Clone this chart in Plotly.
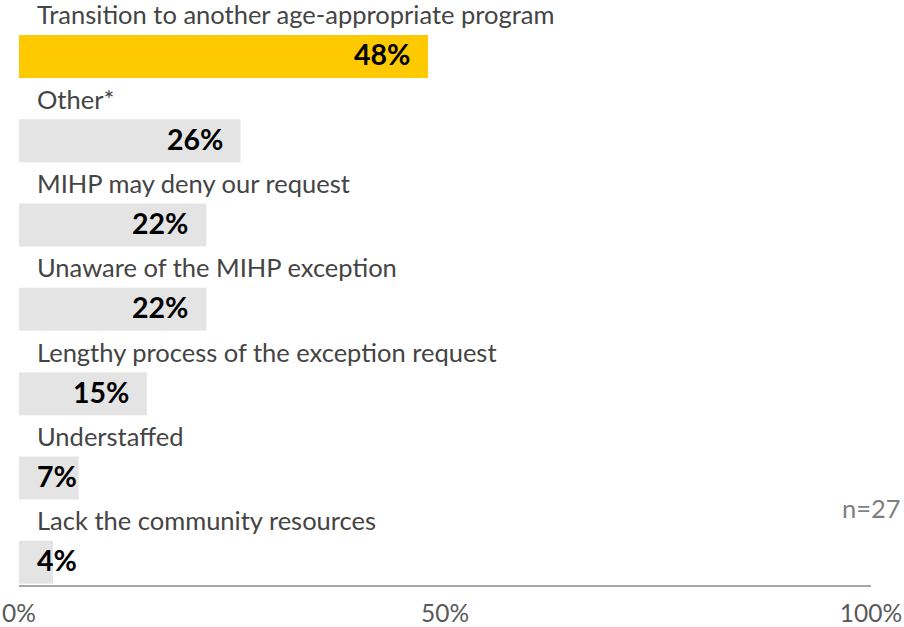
import plotly.graph_objects as go

# Reasons reported, with share of respondents (%)
categories = [
    "Transition to another age-appropriate program",
    "Other*",
    "MIHP may deny our request",
    "Unaware of the MIHP exception",
    "Lengthy process of the exception request",
    "Understaffed",
    "Lack the community resources",
]
values = [48, 26, 22, 22, 15, 7, 4]
bar_colors = ["#FFC900", "#E4E4E4", "#E4E4E4", "#E4E4E4", "#E4E4E4", "#E4E4E4", "#E4E4E4"]
tick_values = [0, 50, 100]
tick_labels = ["0%", "50%", "100%"]
sample_note = "n=27"

FONT = "Lato, 'Open Sans', sans-serif"
positions = list(range(len(categories)))

fig = go.Figure(
    go.Bar(
        x=values,
        y=positions,
        orientation="h",
        width=0.51,
        marker=dict(color=bar_colors, line=dict(width=0)),
        hoverinfo="skip",
    )
)

annotations = []
for i, (cat, val) in enumerate(zip(categories, values)):
    # category label sits in the gap above its bar
    annotations.append(dict(
        x=0, y=i - 0.5, xref="x", yref="y",
        text=cat, showarrow=False, xanchor="left", yanchor="middle",
        xshift=17, borderpad=0,
        font=dict(family=FONT, size=25.5, color="#444444"),
    ))
    # value label: right-aligned inside the bar, or pinned left for short bars
    if val >= 10:
        annotations.append(dict(
            x=val, y=i, xref="x", yref="y", text=f"<b>{val}%</b>",
            showarrow=False, xanchor="right", yanchor="middle",
            xshift=-16, yshift=2,
            font=dict(family=FONT, size=28.5, color="#000000"),
        ))
    else:
        annotations.append(dict(
            x=0, y=i, xref="x", yref="y", text=f"<b>{val}%</b>",
            showarrow=False, xanchor="left", yanchor="middle",
            xshift=16, yshift=2,
            font=dict(family=FONT, size=28.5, color="#000000"),
        ))

# sample size note at the right edge
annotations.append(dict(
    x=1.0, y=(585 - 508) / 571, xref="paper", yref="paper", text=sample_note,
    showarrow=False, xanchor="center", yanchor="middle",
    font=dict(family=FONT, size=25.5, color="#7F7F7F"),
))

fig.update_layout(
    width=904, height=627,
    margin=dict(l=19, r=33, t=14, b=42, autoexpand=False),
    paper_bgcolor="white", plot_bgcolor="white",
    showlegend=False,
    annotations=annotations,
    xaxis=dict(
        range=[0, 100], tickvals=tick_values, ticktext=tick_labels,
        showgrid=False, zeroline=False, automargin=False,
        showline=True, linecolor="#A6A6A6", linewidth=2,
        ticks="outside", ticklen=6, tickcolor="rgba(0,0,0,0)",
        tickfont=dict(family=FONT, size=24.5, color="#595959"),
        fixedrange=True,
    ),
    yaxis=dict(
        range=[6.27, -0.504], showticklabels=False, showgrid=False,
        zeroline=False, showline=False, automargin=False, fixedrange=True,
    ),
)

fig.write_html("out.html", post_script="document.body.style.margin='0';")
